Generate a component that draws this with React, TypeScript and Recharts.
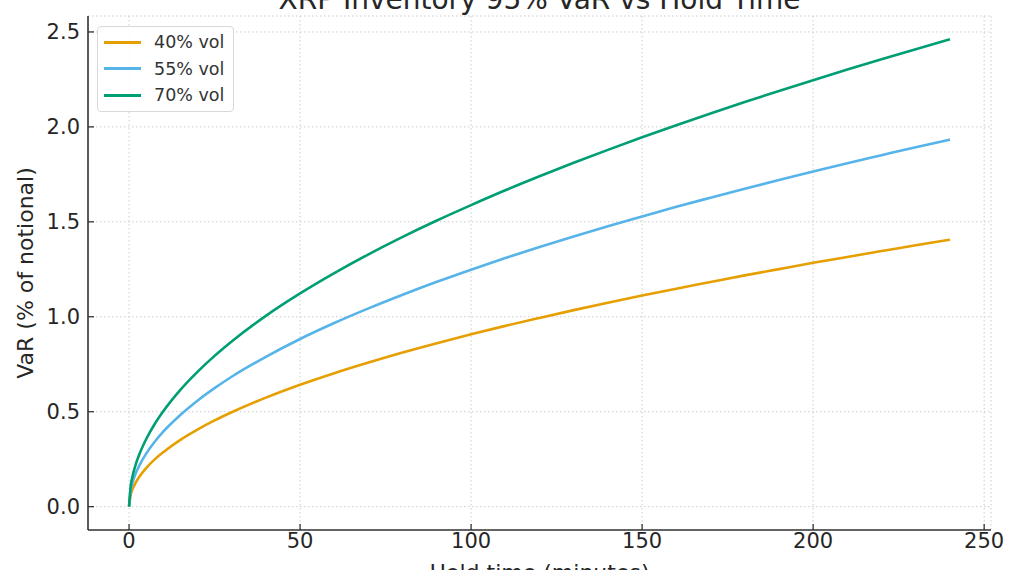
import React from 'react';
import { LineChart, Line, XAxis, YAxis, CartesianGrid, Label } from 'recharts';

// hold time samples (minutes)
const holdMinutes = [
  0, 0.5, 1, 2, 3, 5, 7.5, 10, 15, 20, 25, 30, 40, 50, 60, 70, 80, 90, 100, 110, 120,
  130, 140, 150, 160, 170, 180, 190, 200, 210, 220, 230, 240,
];

// VaR as % of notional
const var40 = [
  0, 0.064, 0.091, 0.128, 0.157, 0.203, 0.249, 0.287, 0.352, 0.406, 0.454, 0.497, 0.574,
  0.642, 0.703, 0.759, 0.812, 0.861, 0.908, 0.952, 0.994, 1.035, 1.074, 1.112, 1.148,
  1.183, 1.218, 1.251, 1.284, 1.315, 1.346, 1.377, 1.406,
];
const var55 = [
  0, 0.088, 0.125, 0.177, 0.216, 0.279, 0.342, 0.395, 0.483, 0.558, 0.624, 0.684, 0.789,
  0.883, 0.967, 1.044, 1.116, 1.184, 1.248, 1.309, 1.367, 1.423, 1.477, 1.528, 1.579,
  1.627, 1.674, 1.72, 1.765, 1.809, 1.851, 1.893, 1.933,
];
const var70 = [
  0, 0.112, 0.159, 0.225, 0.275, 0.355, 0.435, 0.502, 0.615, 0.71, 0.794, 0.87, 1.005,
  1.123, 1.23, 1.329, 1.421, 1.507, 1.588, 1.666, 1.74, 1.811, 1.879, 1.945, 2.009,
  2.071, 2.131, 2.189, 2.246, 2.302, 2.356, 2.409, 2.461,
];

const xTicks = [0, 50, 100, 150, 200, 250];
const yTicks = [0, 0.5, 1, 1.5, 2, 2.5];

const series = [
  { key: 'v40', name: '40% vol', color: '#E69F00' },
  { key: 'v55', name: '55% vol', color: '#56B4E9' },
  { key: 'v70', name: '70% vol', color: '#009E73' },
];

const data = holdMinutes.map((t, i) => ({ t, v40: var40[i], v55: var55[i], v70: var70[i] }));

const FONT = '"DejaVu Sans", sans-serif';
const INK = '#262626';

const LegendBox = () => (
  <div
    style={{
      position: 'absolute',
      left: 97,
      top: 26,
      border: '1px solid #d9d9d9',
      borderRadius: 4,
      background: 'rgba(255,255,255,0.85)',
      padding: '2px 9px 2px 6px',
      fontFamily: FONT,
      fontSize: 17.5,
      color: '#333',
    }}
  >
    {series.map(s => (
      <div key={s.key} style={{ display: 'flex', alignItems: 'center', height: 26.5 }}>
        <div style={{ width: 37, height: 3, background: s.color, marginRight: 13 }} />
        <span>{s.name}</span>
      </div>
    ))}
  </div>
);

export default function App() {
  return (
    <div style={{ position: 'absolute', left: 0, top: 0, width: 1024, height: 570, overflow: 'hidden', background: '#fff' }}>
      <LineChart width={1024} height={570} data={data} margin={{ top: 16, right: 33, bottom: 10, left: 0 }}>
        <CartesianGrid stroke="#cccccc" strokeDasharray="1.5 2.5" horizontal vertical />
        <XAxis
          dataKey="t"
          type="number"
          domain={[-12, 252]}
          ticks={xTicks}
          allowDataOverflow
          height={30}
          tickSize={-6}
          tickMargin={9}
          axisLine={{ stroke: '#333', strokeWidth: 1.6 }}
          tickLine={{ stroke: '#333', strokeWidth: 1.3 }}
          tick={{ fill: INK, fontSize: 21, fontFamily: FONT }}
        >
          <Label value="Hold time (minutes)" position="bottom" offset={4} fill={INK} fontSize={22} fontFamily={FONT} />
        </XAxis>
        <YAxis
          type="number"
          domain={[-0.123, 2.584]}
          ticks={yTicks}
          allowDataOverflow
          width={88}
          tickSize={-6}
          tickMargin={14}
          tickFormatter={(v: number) => v.toFixed(1)}
          axisLine={{ stroke: '#333', strokeWidth: 1.6 }}
          tickLine={{ stroke: '#333', strokeWidth: 1.3 }}
          tick={{ fill: INK, fontSize: 21, fontFamily: FONT }}
        >
          <Label
            value="VaR (% of notional)"
            angle={-90}
            position="insideLeft"
            offset={25}
            style={{ textAnchor: 'middle' }}
            fill={INK}
            fontSize={22}
            fontFamily={FONT}
          />
        </YAxis>
        {series.map(s => (
          <Line
            key={s.key}
            dataKey={s.key}
            name={s.name}
            type="monotone"
            stroke={s.color}
            strokeWidth={2.6}
            dot={false}
            isAnimationActive={false}
          />
        ))}
      </LineChart>
      <div
        style={{
          position: 'absolute',
          left: 88,
          width: 903,
          top: -17,
          textAlign: 'center',
          fontFamily: FONT,
          fontSize: 28,
          color: INK,
          whiteSpace: 'nowrap',
        }}
      >
        XRP Inventory 95% VaR vs Hold Time
      </div>
      <LegendBox />
    </div>
  );
}
